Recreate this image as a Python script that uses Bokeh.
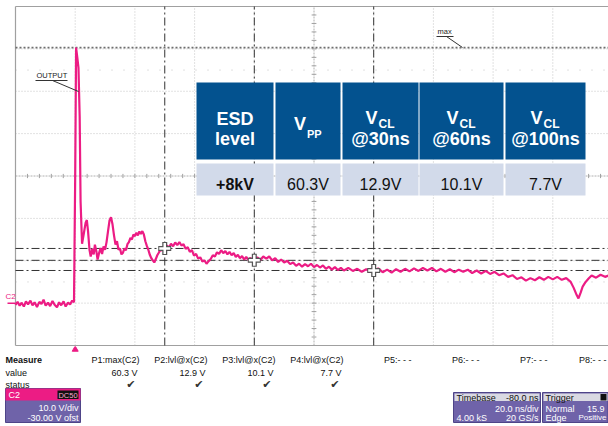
from bokeh.plotting import figure
from bokeh.models import Range1d
from bokeh.layouts import column
from bokeh.embed import file_html
from bokeh.resources import INLINE
from bokeh.core.properties import value

# ---------------- data ----------------
# C2 output waveform (ns, V)
time_ns = [-20, -19.3, -18.6, -18, -17.2, -16.5, -15.8, -15, -14.3, -13.6, -12.8, -12, -11.3, -10.6,
           -9.9, -9.1, -8.4, -7.6, -6.9, -6.1, -5.4, -4.7, -3.9, -3.2, -2.4, -1.7, -1.0, -0.4,
           0.0, 0.3, 0.7, 1.1, 1.5, 1.8, 2.3, 2.9, 3.5, 3.9, 4.3, 4.8, 5.2, 5.7, 6.2, 6.6, 7.1, 7.5,
           8.0, 8.5, 9.0, 9.5, 10.0, 10.5, 11.0, 11.5, 12.0, 12.5, 13.0, 13.5, 14.0, 14.5, 15.0, 15.5,
           16.0, 16.5, 17.0, 17.5, 18.0, 18.5, 19.0, 19.5, 20.0, 20.5, 21.0, 21.5, 22.0, 22.5, 23.0,
           23.5, 24.0, 24.5, 25.0, 25.5, 26.0, 26.5, 27.0, 27.5, 28.0, 28.5, 29.0, 29.5, 30.0, 30.7,
           31.4, 32.1, 32.8, 33.5, 34.2, 34.9, 35.6, 36.3, 37.0, 37.7, 38.4, 39.1, 39.8, 40.5, 41.2,
           41.9, 42.6, 43.3, 44.0, 44.7, 45.4, 46.1, 46.8, 47.5, 48.2, 48.9, 49.6, 50.3, 51.0, 51.7,
           52.4, 53.1, 53.8, 54.5, 55.2, 55.9, 56.6, 57.3, 58.0, 58.7, 59.4, 60.0, 61, 62, 63, 64, 65,
           66, 67, 68, 69, 70, 71, 72, 73, 74, 75, 76, 77, 78, 79, 80, 81, 82, 83, 84, 85, 86, 87, 88,
           89, 90, 91.5, 93, 94.5, 96, 97.5, 99, 100, 101.5, 103, 104.5, 106, 107.5, 109, 110.5, 112,
           113.5, 115, 116.5, 118, 119.5, 121, 122.5, 124, 125.5, 127, 128.5, 130, 131.5, 133, 134.5,
           136, 137.5, 139, 140.5, 142, 143.5, 145, 146.5, 148, 149.5, 151, 152.5, 154, 155.5, 157,
           158.5, 160, 161.5, 163, 164.5, 166, 167, 168, 168.6, 169.3, 170, 171, 172, 173, 174.5,
           176, 177.5, 179]
volts = [-0.4, 0.3, -0.6, 0.1, -0.8, 0.4, -0.3, 0.6, -0.5, 0.2, -0.9, 0.3, -0.2, 0.8,
         -0.6, 0.1, -0.7, 0.5, -0.4, -1.0, 0.2, -0.5, 0.4, -0.8, 0.1, -0.3, 0.6, 0.2,
         30.0, 60.3, 58.0, 55.5, 44.0, 24.0, 14.0, 16.5, 19.0, 19.6, 17.0, 12.5, 11.0, 12.8, 11.5,
         13.8, 12.2, 10.3, 11.8, 13.0, 11.6, 13.4, 12.6, 14.4, 17.0, 19.5, 20.3, 18.6, 16.0, 13.8,
         14.6, 12.6, 12.9, 11.5, 11.9, 12.9, 12.5, 13.9, 14.4, 15.4, 15.0, 16.2, 15.8, 16.6, 16.0,
         16.9, 16.3, 17.0, 16.2, 14.6, 13.5, 12.6, 11.4, 10.6, 10.1, 9.6, 10.4, 11.3, 11.9, 12.6,
         12.4, 13.1, 12.9, 13.6, 13.1, 14.0, 13.4, 14.3, 13.7, 14.4, 13.6, 13.9, 12.8, 13.2, 12.1,
         12.5, 11.2, 11.6, 10.5, 10.8, 9.8, 10.1, 9.3, 9.9, 10.4, 11.3, 11.0, 12.0, 11.6, 12.5, 11.8,
         12.3, 11.5, 12.1, 11.3, 11.8, 10.9, 11.4, 10.6, 11.1, 10.3, 10.9, 10.2, 10.7, 9.9, 10.1,
         10.8, 10.2, 11.0, 10.5, 11.0, 10.1, 10.6, 9.7, 10.3, 9.6, 10.0, 9.2, 9.6, 8.8, 9.3, 8.6,
         9.2, 8.7, 9.3, 8.5, 9.0, 8.4, 8.9, 8.1, 8.6, 7.9, 8.5, 7.8, 8.3, 7.7, 8.3, 7.6, 8.1, 7.4,
         8.0, 7.4, 7.7, 8.2, 7.3, 7.9, 7.2, 8.0, 7.4, 8.1, 7.5, 8.2, 7.6, 8.3, 7.7, 8.3, 7.5, 8.1,
         7.4, 8.0, 7.3, 7.9, 7.4, 7.9, 7.1, 7.7, 7.0, 7.6, 6.9, 7.4, 6.6, 7.0, 6.2, 6.6, 5.7, 6.1,
         5.3, 5.9, 5.4, 6.1, 5.5, 6.2, 5.6, 6.2, 5.5, 5.9, 5.0, 3.6, 1.9, 1.1, 2.4, 3.9, 5.0, 5.8,
         6.5, 6.0, 6.7, 6.2, 6.6]

v_pp = 60.3                      # P1: max(C2)
cursor_t = [30, 60, 100]         # lvl@x cursor positions, ns
cursor_v = [12.9, 10.1, 7.7]     # levels at the cursors, V
esd_level = "+8kV"
cursor_heads = ["@30ns", "@60ns", "@100ns"]

meas_names = ["P1:max(C2)", "P2:lvl@x(C2)", "P3:lvl@x(C2)", "P4:lvl@x(C2)",
              "P5:- - -", "P6:- - -", "P7:- - -", "P8:- - -"]
meas_values = [v_pp] + cursor_v

# scope settings: 10 V/div, -30 V offset, 20 ns/div
volts_per_div = 10.0
offset_v = -30.0
ns_per_div = 20.0
grid_t = [0, 20, 40, 60, 100, 120, 140, 160]
grid_v = [60, 50, 40, 20, 10, 0]
center_t = 80
center_v = 30
dot_rows_v = [55, 5]

# ---------------- geometry ----------------
W = 608
TOP_H = 346
BOT_H = 80
PX_PER_NS = 59.7 / ns_per_div
PX_PER_V = 339.0 / (8 * volts_per_div)
t_left, t_top_v = -20.0, 70.0
x_start = t_left - 15 / PX_PER_NS
x_end = x_start + W / PX_PER_NS
y_end = t_top_v + 6 / PX_PER_V
y_start = t_top_v - 340 / PX_PER_V
v_bottom = -10.0

PINK = "#EC1C84"
GRID = "#C4C4C4"
BLUE = "#03528F"
LAV = "#D2DAEA"
PURPLE = "#6F63A9"
FONT = "Liberation Sans"

p = figure(width=W, height=TOP_H, x_range=Range1d(x_start, x_end), y_range=Range1d(y_start, y_end),
           x_axis_type=None, y_axis_type=None, toolbar_location=None, output_backend="svg",
           min_border=0, outline_line_color=None, background_fill_color="white",
           border_fill_color="white")
p.grid.visible = False
p.extra_x_ranges = {"px": Range1d(0, W)}
p.extra_y_ranges = {"py": Range1d(TOP_H, 0)}


def txt(fig, x, y, s, size, color, align="left", bold=False, base="middle", font=FONT, **kw):
    fig.text(x=[x], y=[y], text=[s], text_font=value(font), text_font_size=f"{size}px",
             text_color=color, text_align=align, text_baseline=base,
             text_font_style="bold" if bold else "normal", **kw)


# grid
p.segment(x0=grid_t, x1=grid_t, y0=[v_bottom] * len(grid_t), y1=[t_top_v] * len(grid_t),
          line_color=GRID, line_dash="1 2", line_width=1)
p.segment(x0=[t_left] * len(grid_v), x1=[x_end] * len(grid_v), y0=grid_v, y1=grid_v,
          line_color=GRID, line_dash="1 2", line_width=1)
p.segment(x0=[t_left] * 2, x1=[x_end] * 2, y0=dot_rows_v, y1=dot_rows_v,
          line_color=GRID, line_dash="1 11", line_width=1)

# center axes with minor ticks
p.segment(x0=[center_t], x1=[center_t], y0=[v_bottom], y1=[t_top_v], line_color="#B0B0B0",
          line_dash="2 1", line_width=1)
p.segment(x0=[t_left], x1=[x_end], y0=[center_v], y1=[center_v], line_color="#B0B0B0",
          line_dash="2 1", line_width=1)
tick_v = [v_bottom + 2 * k for k in range(1, 40)]
p.segment(x0=[center_t - 0.8] * len(tick_v), x1=[center_t + 0.8] * len(tick_v), y0=tick_v, y1=tick_v,
          line_color="#A0A0A0", line_width=1)
tick_t = [t_left + 4 * k for k in range(1, 50)]
p.segment(x0=tick_t, x1=tick_t, y0=[center_v - 0.5] * len(tick_t), y1=[center_v + 0.5] * len(tick_t),
          line_color="#A0A0A0", line_width=1)

# frame border
p.segment(x0=[t_left, t_left, t_left], x1=[t_left, x_end, x_end], y0=[v_bottom, t_top_v, v_bottom],
          y1=[t_top_v, t_top_v, v_bottom], line_color="#A0A0A0", line_width=1.2)

# max level line
p.segment(x0=[t_left], x1=[x_end], y0=[v_pp], y1=[v_pp], line_color="#6E6E6E", line_dash="2 2",
          line_width=1.6)

# cursors
p.segment(x0=[t_left] * 3, x1=[x_end] * 3, y0=cursor_v, y1=cursor_v, line_color="#333333",
          line_dash="8 3 2 3", line_width=1)
p.segment(x0=cursor_t, x1=cursor_t, y0=[v_bottom] * 3, y1=[t_top_v] * 3, line_color="#333333",
          line_dash="8 3 2 3", line_width=1)

# waveform
p.line(time_ns, volts, line_color=PINK, line_width=2.2)

# cursor cross markers
p.scatter(cursor_t, cursor_v, marker="cross", size=13, line_width=5, line_color="#555555")
p.scatter(cursor_t, cursor_v, marker="cross", size=11, line_width=2.5, line_color="white")

# channel ground marker
p.segment(x0=[7], x1=[15], y0=[0], y1=[0], line_color=PINK, line_width=1.5, x_range_name="px")
txt(p, 5, 296, "C2", 8, PINK, x_range_name="px", y_range_name="py")

# annotations
txt(p, 36, 75, "OUTPUT", 7.5, "#222222", x_range_name="px", y_range_name="py")
p.segment(x0=[35, 52], x1=[67, 78], y0=[80, 80], y1=[80, 91], line_color="#333333", line_width=1,
          x_range_name="px", y_range_name="py")
txt(p, 437, 31, "max", 7.5, "#222222", x_range_name="px", y_range_name="py")
p.segment(x0=[436, 446], x1=[453, 462], y0=[36, 36], y1=[36, 47], line_color="#333333", line_width=1,
          x_range_name="px", y_range_name="py")

# summary table
col_l = [196, 275, 342, 419, 505]
col_r = [273, 340, 418, 503, 585]
col_c = [(a + b) / 2 for a, b in zip(col_l, col_r)]
p.quad(left=col_l, right=col_r, top=[82] * 5, bottom=[159] * 5, fill_color=BLUE, line_color=None,
       x_range_name="px", y_range_name="py")
p.quad(left=col_l, right=col_r, top=[163] * 5, bottom=[195] * 5, fill_color=LAV, line_color=None,
       x_range_name="px", y_range_name="py")

hk = dict(x_range_name="px", y_range_name="py")
txt(p, col_c[0], 118, "ESD", 18, "white", "center", True, "alphabetic", **hk)
txt(p, col_c[0], 138, "level", 18, "white", "center", True, "alphabetic", **hk)
txt(p, col_c[1] - 2, 123, "V", 18, "white", "right", True, "alphabetic", **hk)
txt(p, col_c[1] - 1, 133, "PP", 11, "white", "left", True, "alphabetic", **hk)
for c, head in zip(col_c[2:], cursor_heads):
    txt(p, c - 3, 117, "V", 18, "white", "right", True, "alphabetic", **hk)
    txt(p, c - 2, 123, "CL", 12, "white", "left", True, "alphabetic", **hk)
    txt(p, c, 138, head, 18, "white", "center", True, "alphabetic", **hk)

txt(p, col_c[0], 184, esd_level, 16, "#111111", "center", True, "alphabetic", **hk)
for c, v in zip(col_c[1:], meas_values):
    txt(p, c, 184, f"{v}V", 16, "#111111", "center", False, "alphabetic", **hk)

# ---------------- measurement / status panel ----------------
b = figure(width=W, height=BOT_H, x_range=Range1d(0, W), y_range=Range1d(TOP_H + BOT_H, TOP_H),
           x_axis_type=None, y_axis_type=None, toolbar_location=None, output_backend="svg",
           min_border=0, outline_line_color=None, background_fill_color="white",
           border_fill_color="white")
b.grid.visible = False
b.extra_x_ranges = {"t": Range1d(x_start, x_end)}

# trigger position marker
b.scatter([0], [349], marker="triangle", size=6, fill_color=PINK, line_color=PINK, x_range_name="t")

txt(b, 5, 359, "Measure", 9, "#111111", bold=True)
txt(b, 5, 372, "value", 9, "#111111")
txt(b, 5, 384, "status", 9, "#111111")
for i, name in enumerate(meas_names):
    edge = min(139 + 68 * i, 606)
    txt(b, edge, 359, name, 9, "#111111", "right")
for i, v in enumerate(meas_values):
    edge = 139 + 68 * i
    txt(b, edge - 2, 372, f"{v} V", 9, "#111111", "right")
    txt(b, edge - 4, 384, "\u2714", 11, "#333333", "right", font="DejaVu Sans")

# C2 channel box
b.quad(left=[5], right=[80], top=[388], bottom=[422], fill_color=PURPLE, line_color="#4E4488")
b.quad(left=[5], right=[80], top=[388], bottom=[400], fill_color=PINK, line_color=None)
txt(b, 8, 394, "C2", 9, "white")
b.quad(left=[57], right=[78], top=[390], bottom=[398.5], fill_color="#111111", line_color=None)
txt(b, 67.5, 394.5, "DC50", 7.5, "#F7A8CF", "center")
txt(b, 78, 407, f"{volts_per_div:.1f} V/div", 9, "white", "right")
txt(b, 78, 417, f"{offset_v:.2f} V ofst", 9, "white", "right")

# timebase box
b.quad(left=[453], right=[540], top=[392], bottom=[422], fill_color=PURPLE, line_color="#4E4488")
b.quad(left=[454], right=[539], top=[393], bottom=[400.5], fill_color="#D9D9E2", line_color=None)
txt(b, 456, 397, "Timebase", 9, "#111111")
txt(b, 538, 397, "-80.0 ns", 9, "#111111", "right")
txt(b, 538, 408, f"{ns_per_div:.1f} ns/div", 9, "white", "right")
txt(b, 456, 417, "4.00 kS", 9, "white")
txt(b, 538, 417, "20 GS/s", 9, "white", "right")

# trigger box
b.quad(left=[542], right=[607.5], top=[392], bottom=[422], fill_color=PURPLE, line_color="#4E4488")
b.quad(left=[543], right=[607], top=[393], bottom=[400.5], fill_color="#D9D9E2", line_color=None)
txt(b, 545, 397, "Trigger", 9, "#111111")
b.quad(left=[600], right=[606], top=[393.5], bottom=[400], fill_color="#111111", line_color=None)
txt(b, 545, 408, "Normal", 9, "white")
txt(b, 604, 408, "15.9", 9, "white", "right")
txt(b, 545, 417, "Edge", 9, "white")
txt(b, 606, 417, "Positive", 8, "white", "right")

layout = column(p, b, spacing=0)
open("out.html", "w").write(file_html(layout, INLINE))
